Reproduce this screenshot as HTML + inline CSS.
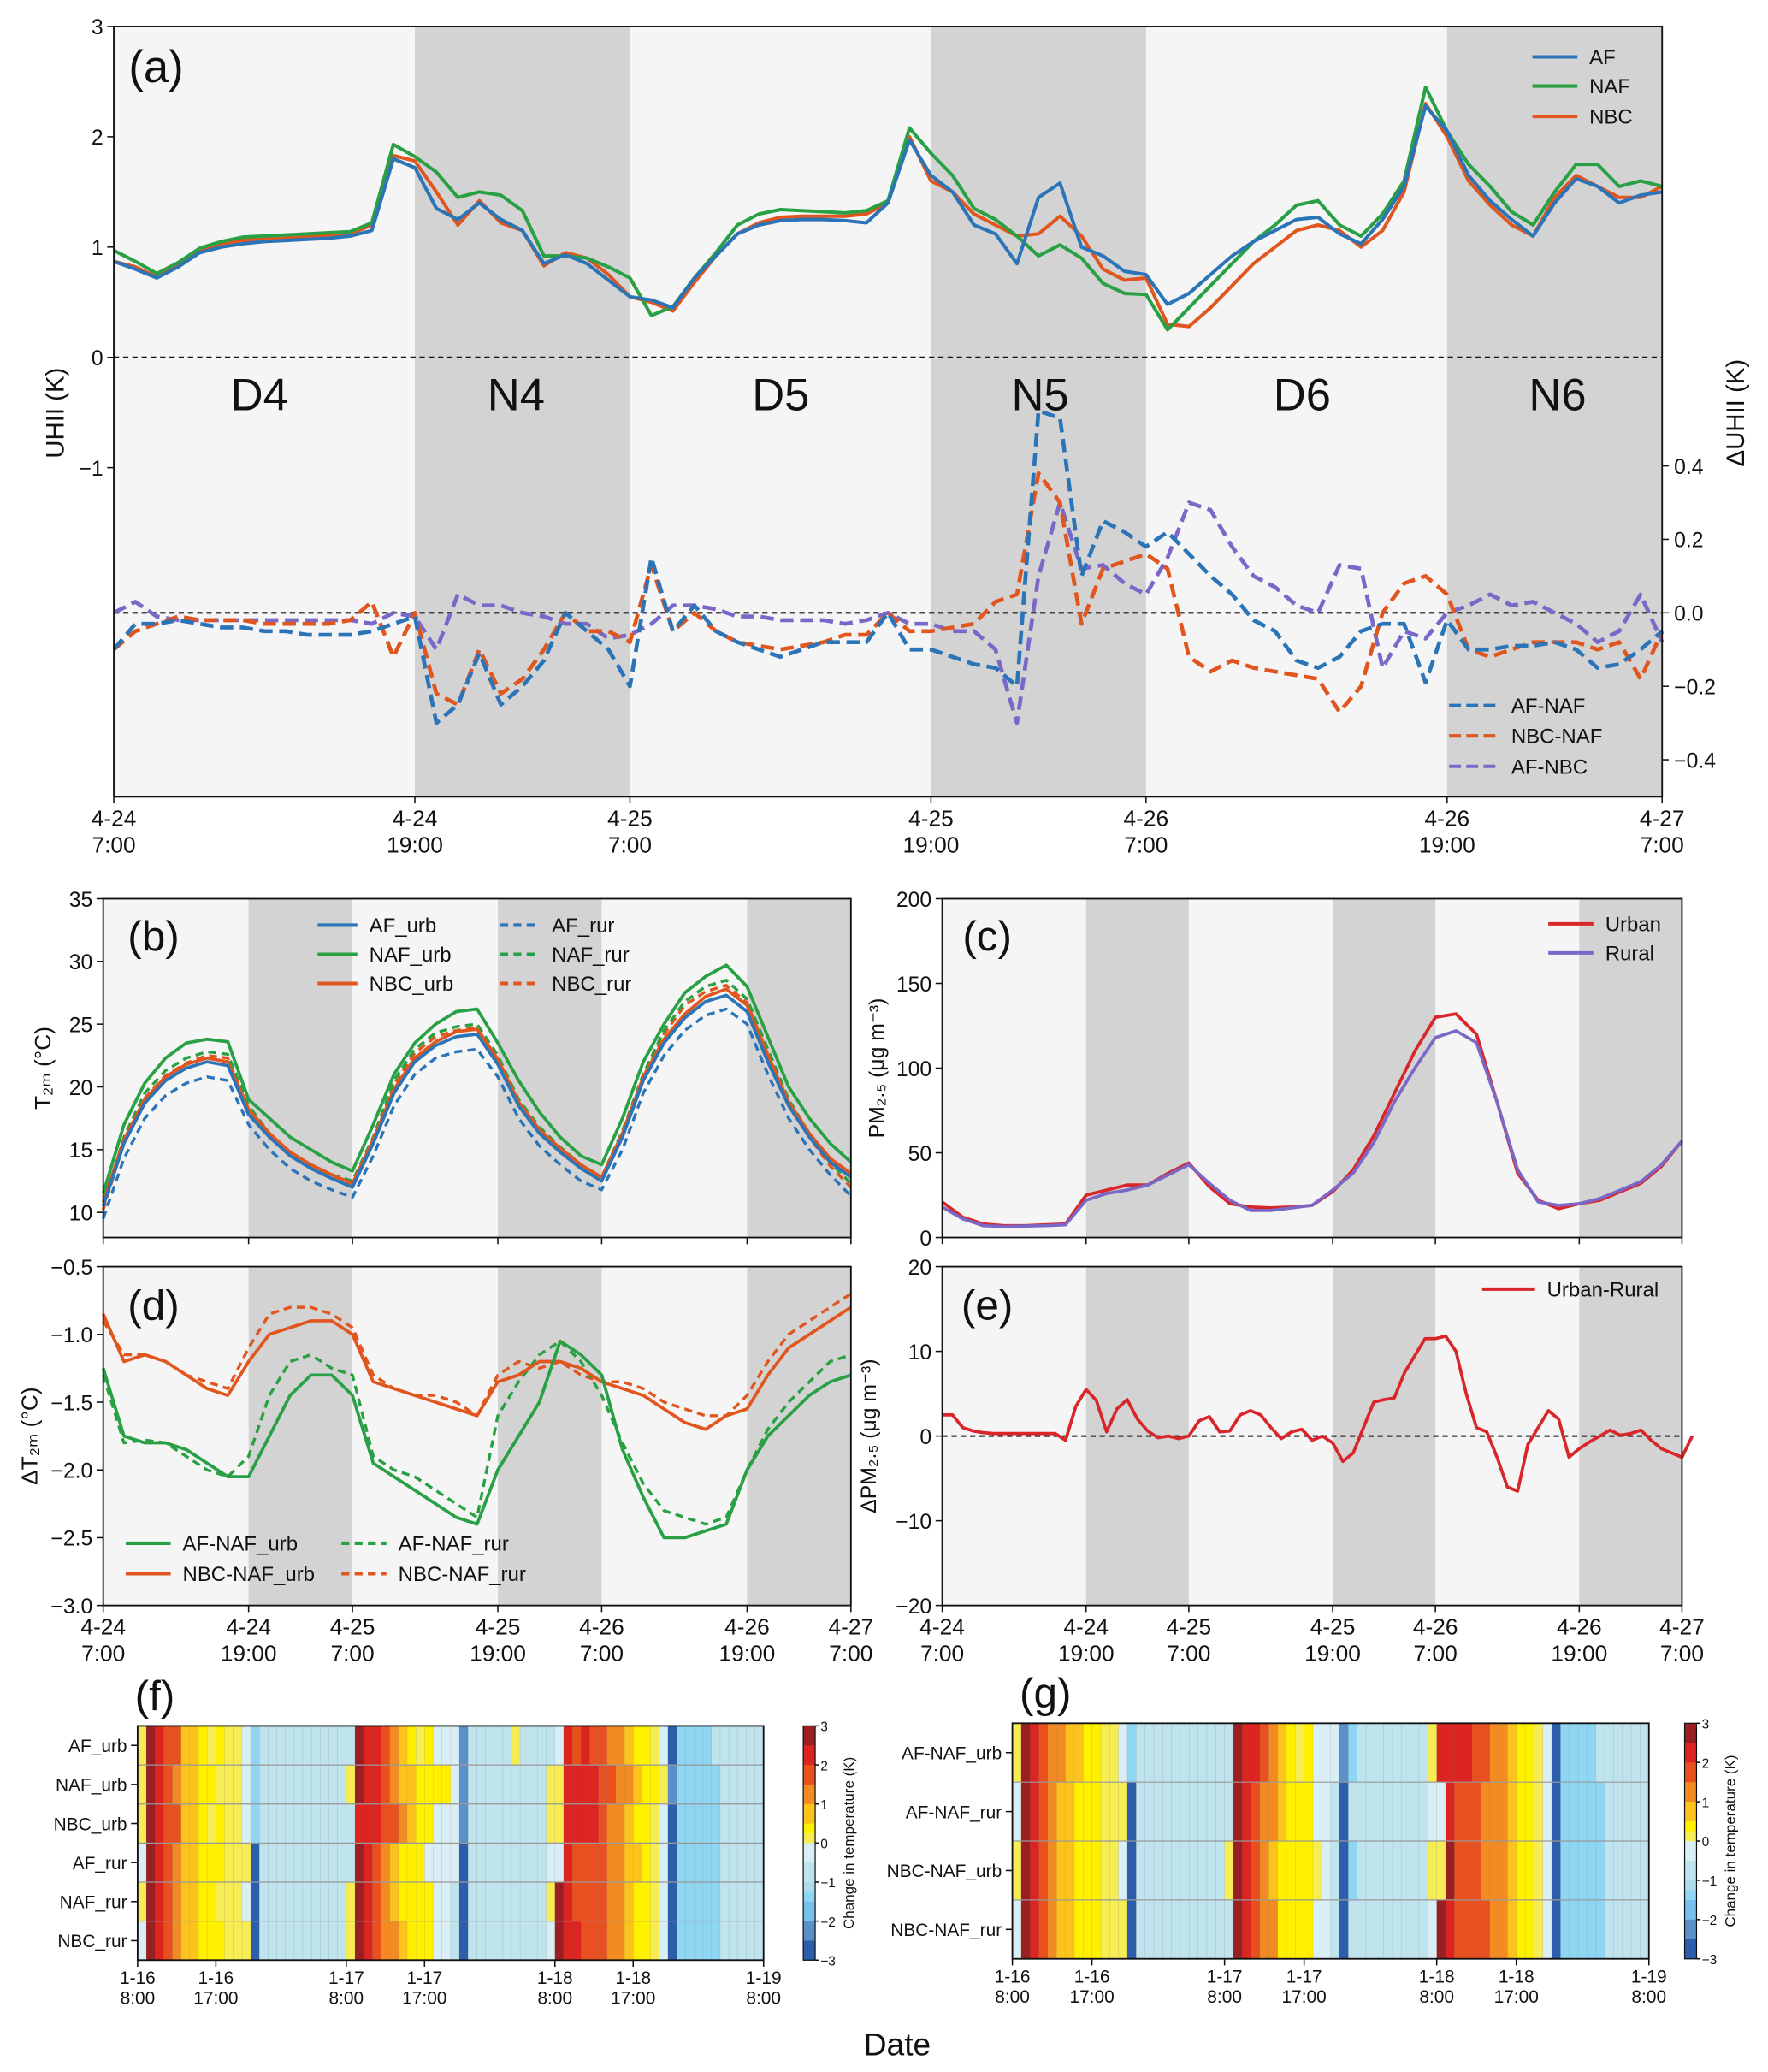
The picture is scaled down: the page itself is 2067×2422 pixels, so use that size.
<!DOCTYPE html>
<html><head><meta charset="utf-8"><style>
html,body{margin:0;padding:0;background:#fff}
svg{display:block}
text{font-family:"Liberation Sans",Arial,sans-serif;fill:#111}
</style></head><body>
<svg id="fig" xmlns="http://www.w3.org/2000/svg" width="2067" height="2422" viewBox="0 0 1336 1565.5" preserveAspectRatio="none"></svg>
<script>
// ---------- DATA ----------
const aAF=[0.87,0.8,0.72,0.82,0.95,1.0,1.03,1.05,1.06,1.07,1.08,1.1,1.15,1.8,1.72,1.35,1.25,1.4,1.25,1.15,0.85,0.93,0.85,0.7,0.55,0.52,0.45,0.72,0.92,1.12,1.2,1.24,1.25,1.25,1.24,1.22,1.4,1.97,1.65,1.5,1.2,1.12,0.85,1.45,1.58,1.0,0.92,0.78,0.75,0.48,0.58,0.75,0.92,1.05,1.15,1.25,1.27,1.12,1.03,1.25,1.55,2.28,2.05,1.65,1.42,1.25,1.1,1.4,1.62,1.55,1.4,1.47,1.5];
const aNAF=[0.97,0.87,0.76,0.86,0.99,1.05,1.09,1.1,1.11,1.12,1.13,1.14,1.22,1.93,1.82,1.68,1.45,1.5,1.47,1.33,0.92,0.92,0.9,0.82,0.72,0.38,0.46,0.72,0.95,1.2,1.3,1.34,1.33,1.32,1.31,1.33,1.42,2.08,1.85,1.65,1.35,1.25,1.1,0.92,1.02,0.9,0.67,0.58,0.57,0.25,0.45,0.65,0.85,1.05,1.2,1.38,1.42,1.2,1.1,1.3,1.6,2.45,2.05,1.75,1.55,1.32,1.2,1.5,1.75,1.75,1.55,1.6,1.55];
const aNBC=[0.87,0.82,0.73,0.85,0.98,1.03,1.06,1.07,1.08,1.1,1.11,1.12,1.2,1.83,1.78,1.5,1.2,1.42,1.22,1.15,0.83,0.95,0.9,0.75,0.55,0.5,0.42,0.68,0.92,1.12,1.22,1.27,1.28,1.28,1.28,1.3,1.4,2.0,1.6,1.5,1.3,1.2,1.1,1.12,1.28,1.1,0.8,0.7,0.72,0.3,0.28,0.45,0.65,0.85,1.0,1.15,1.2,1.15,1.0,1.15,1.5,2.3,2.0,1.6,1.38,1.2,1.1,1.45,1.65,1.55,1.45,1.45,1.55];
const dAFNAF=[-0.1,-0.03,-0.03,-0.02,-0.03,-0.04,-0.04,-0.05,-0.05,-0.06,-0.06,-0.06,-0.05,-0.03,-0.01,-0.3,-0.25,-0.11,-0.25,-0.2,-0.13,0.0,-0.05,-0.1,-0.2,0.15,-0.05,0.02,-0.05,-0.08,-0.1,-0.12,-0.1,-0.08,-0.08,-0.08,0.0,-0.1,-0.1,-0.12,-0.14,-0.15,-0.2,0.55,0.53,0.1,0.25,0.22,0.18,0.22,0.16,0.1,0.05,-0.02,-0.05,-0.13,-0.15,-0.12,-0.05,-0.03,-0.03,-0.19,-0.02,-0.1,-0.1,-0.09,-0.09,-0.08,-0.1,-0.15,-0.14,-0.1,-0.05];
const dNBCNAF=[-0.1,-0.05,-0.03,-0.01,-0.02,-0.02,-0.02,-0.03,-0.03,-0.03,-0.03,-0.02,0.03,-0.12,0.0,-0.22,-0.25,-0.1,-0.22,-0.18,-0.1,0.0,-0.05,-0.05,-0.08,0.13,-0.05,0.0,-0.05,-0.08,-0.09,-0.1,-0.09,-0.08,-0.06,-0.06,0.0,-0.05,-0.05,-0.04,-0.03,0.03,0.05,0.38,0.3,-0.03,0.12,0.14,0.16,0.12,-0.12,-0.16,-0.13,-0.15,-0.16,-0.17,-0.18,-0.27,-0.2,0.0,0.08,0.1,0.05,-0.1,-0.12,-0.1,-0.08,-0.08,-0.08,-0.1,-0.08,-0.18,-0.05];
const dAFNBC=[0.0,0.03,-0.01,-0.02,-0.02,-0.02,-0.02,-0.02,-0.02,-0.02,-0.02,-0.02,-0.03,0.0,-0.01,-0.1,0.05,0.02,0.02,0.0,-0.01,-0.03,-0.03,-0.07,-0.06,-0.03,0.02,0.02,0.01,-0.01,-0.01,-0.02,-0.02,-0.02,-0.03,-0.02,0.0,-0.03,-0.03,-0.05,-0.05,-0.1,-0.3,0.1,0.3,0.12,0.13,0.08,0.05,0.15,0.3,0.28,0.18,0.1,0.07,0.02,0.0,0.13,0.12,-0.15,-0.05,-0.07,0.0,0.02,0.05,0.02,0.03,0.0,-0.03,-0.08,-0.05,0.05,-0.08];
const bAFu=[10.5,15.5,18.7,20.5,21.5,22,21.7,17.8,16,14.5,13.5,12.7,12.0,15.5,19.5,22,23.3,24,24.2,21.8,18.5,16.3,14.8,13.5,12.5,16,20.5,23.5,25.5,26.8,27.3,26,22,18.5,16,14,12.8];
const bNAFu=[11.5,17,20.3,22.3,23.5,23.8,23.6,19.0,17.5,16,15,14,13.3,17,21,23.5,25,26,26.2,23.5,20.5,18,16,14.5,13.8,17.5,22,25,27.5,28.8,29.7,28,24,20,17.5,15.5,14];
const bNBCu=[10.8,15.8,19,20.8,21.8,22.3,22,18.2,16.3,14.8,13.8,13,12.3,15.8,19.8,22.3,23.6,24.4,24.6,22.2,18.8,16.6,15.1,13.8,12.8,16.3,20.8,23.8,25.8,27.2,27.8,26.5,22.5,18.8,16.3,14.3,13.1];
const bAFr=[9.5,14.3,17.5,19.3,20.3,20.8,20.5,17,15,13.5,12.5,11.8,11.2,14.5,18.5,21,22.3,22.8,23,20.8,17.5,15.3,13.8,12.5,11.8,15,19.5,22.5,24.5,25.7,26.2,25,21,17.5,15,13,11.3];
const bNAFr=[10.5,16,19.5,21.3,22.3,22.8,22.6,18.5,16.3,14.8,13.7,13,12.5,16,20.5,23,24.3,24.8,25,22.5,19,16.8,15.2,13.8,12.8,16.5,21,24.5,26.8,28,28.5,27,23,19,16.3,14,12.3];
const bNBCr=[10.2,15.6,19.1,20.9,21.9,22.5,22.3,18.2,16,14.5,13.5,12.8,12.2,15.7,20.2,22.7,24,24.5,24.7,22.2,18.7,16.5,15,13.5,12.5,16.2,20.7,24.2,26.5,27.6,28.1,26.7,22.6,18.7,16,13.7,12];
const cUrban=[21,12,8,7,7,7.5,8,25,28,31,31,38,44,30,20,18,17.5,18,19,27,40,60,85,110,130,132,120,80,38,22,17,20,22,27,32,42,57];
const cRural=[18,11,7,6.5,6.8,7,7.5,22,26,28,31,37,43,32,22,16,16,17.5,19,28,38,56,80,100,118,122,115,80,40,21,19,20,23,28,33,43,57];
const dAFu=[-1.25,-1.75,-1.8,-1.8,-1.85,-1.95,-2.05,-2.05,-1.75,-1.45,-1.3,-1.3,-1.45,-1.95,-2.05,-2.15,-2.25,-2.35,-2.4,-2.0,-1.75,-1.5,-1.05,-1.15,-1.3,-1.85,-2.2,-2.5,-2.5,-2.45,-2.4,-2.0,-1.75,-1.6,-1.45,-1.35,-1.3];
const dAFr=[-1.3,-1.8,-1.78,-1.8,-1.9,-2.0,-2.05,-1.9,-1.45,-1.2,-1.15,-1.25,-1.3,-1.9,-2.0,-2.05,-2.15,-2.25,-2.35,-1.6,-1.35,-1.15,-1.05,-1.2,-1.45,-1.8,-2.1,-2.3,-2.35,-2.4,-2.35,-2.0,-1.7,-1.5,-1.35,-1.2,-1.15];
const dNBCu=[-0.85,-1.2,-1.15,-1.2,-1.3,-1.4,-1.45,-1.2,-1.0,-0.95,-0.9,-0.9,-1.0,-1.35,-1.4,-1.45,-1.5,-1.55,-1.6,-1.35,-1.3,-1.2,-1.2,-1.25,-1.35,-1.4,-1.45,-1.55,-1.65,-1.7,-1.6,-1.55,-1.3,-1.1,-1.0,-0.9,-0.8];
const dNBCr=[-0.9,-1.15,-1.15,-1.2,-1.3,-1.35,-1.4,-1.1,-0.85,-0.8,-0.8,-0.85,-0.95,-1.3,-1.4,-1.45,-1.45,-1.5,-1.6,-1.3,-1.2,-1.25,-1.2,-1.3,-1.35,-1.35,-1.4,-1.5,-1.55,-1.6,-1.6,-1.45,-1.2,-1.0,-0.9,-0.8,-0.7];
const eDiff=[2.5,2.5,1.0,0.6,0.4,0.3,0.3,0.3,0.3,0.3,0.3,0.3,-0.5,3.5,5.5,4.2,0.5,3.2,4.3,2.0,0.6,-0.2,0.0,-0.3,0.0,1.8,2.3,0.5,0.6,2.5,3.0,2.5,1.0,-0.3,0.5,0.8,-0.5,0.0,-0.8,-3.0,-2.0,1.0,4.0,4.3,4.5,7.5,9.5,11.5,11.5,11.8,10,5,1,0.5,-2.5,-6,-6.5,-1,1,3,2,-2.5,-1.5,-0.7,0.0,0.7,0.1,0.3,0.7,-0.5,-1.5,-2.0,-2.5,0];
const hourTicks=[0,14,24,38,48,62,72];
const dateLabels=["4-24","4-24","4-25","4-25","4-26","4-26","4-27"];
const timeLabels=["7:00","19:00","7:00","19:00","7:00","19:00","7:00"];
const nightStarts=[14,38,62];
const fRows=["AF_urb","NAF_urb","NBC_urb","AF_rur","NAF_rur","NBC_rur"];
const fCodes=[
"lRrooggylyllpcbbbbbbbbbb"+"bRrroOgylypppmbbbbblbbbb"+"prorooOOgyylpDccccbbbbbb",
"lRroOggyylllpcbbbbbbbbbb"+"lRrroOggyyyypmbbbbbbbbbl"+"lrrrrooOOgyylmcccccbbbbb",
"lRrooggylyllpcbbbbbbbbbb"+"brrrooOgyypppmbbbbbbbbbl"+"lrrrroOOgyylpDcccccbbbbb",
"pRroOggyyylllDbbbbbbbbbb"+"bRroOgyyyppppDbbbbbbbbbp"+"prooooOOggylpDcccccbbbbb",
"lRroOggyylllpDbbbbbbbbbb"+"lRroOgyyyyppbDbbbbbbbbbl"+"RrooooOOgyylpDcccccbbbbb",
"pRroOggyyylllDbbbbbbbbbb"+"lRroOOgyyyppbDbbbbbbbbbp"+"RrroooOOgyylpDcccccbbbbb"];
const gRows=["AF-NAF_urb","AF-NAF_rur","NBC-NAF_urb","NBC-NAF_rur"];
const gCodes=[
"lRroOOggyyllpcbbbbbbbbbb"+"bRrroOgylypppmcbbbbbbbbl"+"rrrrooOOgyylpDccccbbbbbb",
"pRroOggyyylllDbbbbbbbbbb"+"bRroOOgyyyppbDbbbbbbbbbp"+"proooOOOgyylpDcccccbbbbb",
"lRroOggyyyllpDbbbbbbbbbb"+"lRroOgyyyylpbDcbbbbbbbbl"+"lRoooOOOgyylpDcccccbbbbb",
"pRroOggyyylllDbbbbbbbbbb"+"bRroOOyyyyppbDbbbbbbbbbp"+"RrooooOOgyylpDcccccbbbbb"];
const codeValues={R:2.75,r:2.25,o:1.75,O:1.25,g:0.75,y:0.4,l:0.1,p:-0.25,b:-0.9,c:-1.4,m:-2.1,d:-2.5,D:-2.85};
const heatTickHours=[0,9,24,33,48,57,72];
const heatDates=["1-16","1-16","1-17","1-17","1-18","1-18","1-19"];
const heatTimes=["8:00","17:00","8:00","17:00","8:00","17:00","8:00"];

// ---------- DRAW ----------
const NS="http://www.w3.org/2000/svg";
const svg=document.getElementById('fig');
function mk(tag,attrs,parent){const e=document.createElementNS(NS,tag);for(const k in attrs)e.setAttribute(k,attrs[k]);(parent||svg).appendChild(e);return e;}
function txt(s,x,y,size,anchor,parent,extra){const t=mk('text',Object.assign({x:x,y:y,'font-size':size,'text-anchor':anchor||'middle'},extra||{}),parent);t.textContent=s;return t;}
const C={AF:'#2b74b8',NAF:'#28a043',NBC:'#e0561e',PUR:'#7a67c8',URB:'#d8262a'};

function panel(name,x0,x1,y0,y1,hours){
  const g=mk('g',{});
  
  
  mk('rect',{x:x0,y:y0,width:x1-x0,height:y1-y0,fill:'#f4f5f4'},g);
  const X=h=>x0+(x1-x0)*h/hours;
  nightStarts.forEach(n=>{const r=mk('rect',{x:X(n),y:y0,width:X(n+10)-X(n),height:y1-y0,fill:'#d3d3d3'},g);
    
    });
  return {g,X};
}
function frame(g,x0,x1,y0,y1){mk('rect',{x:x0,y:y0,width:x1-x0,height:y1-y0,fill:'none',stroke:'#111','stroke-width':1.2},g);}
function line(g,vals,X,Y,step,color,dash,w,name){
  const p=vals.map((v,i)=>(i?'L':'M')+X(i*step).toFixed(2)+','+Y(v).toFixed(2)).join('');
  const e=mk('path',{d:p,fill:'none',stroke:color,'stroke-width':w||2.2,'stroke-dasharray':dash||'none','stroke-linejoin':'round'},g);
  
  
}
function yTicks(g,x,vals,Y,fmt,side){vals.forEach(v=>{const y=Y(v);
  mk('line',{x1:x,x2:side==='r'?x+5:x-5,y1:y,y2:y,stroke:'#111'},g);
  txt(fmt(v),side==='r'?x+9:x-8,y+6,16,side==='r'?'start':'end',g);});}
function xTicks(g,X,y,labels){hourTicks.forEach((h,i)=>{mk('line',{x1:X(h),x2:X(h),y1:y,y2:y+5,stroke:'#111'},g);
  if(labels){txt(dateLabels[i],X(h),y+22,17,'middle',g);txt(timeLabels[i],X(h),y+42,17,'middle',g);}});}
function legendEntry(g,x,y,len,color,dash,label,name){const le=mk('g',{},g);
  
  
  mk('line',{x1:x,x2:x+len,y1:y,y2:y,stroke:color,'stroke-width':2.6,'stroke-dasharray':dash||'none'},le);
  txt(label,x+len+9,y+5.5,15.5,'start',le);}
const minus=v=>(v<0?'\u2212':'')+Math.abs(v);

// ----- panel a -----
(function(){
  const x0=86,x1=1256,y0=20,y1=602;
  const {g,X}=panel('panel-a-uhii',x0,x1,y0,y1,72);
  const Y=v=>270-83.33*v, Y2=v=>463-277.5*v;
  mk('line',{x1:x0,x2:x1,y1:Y(0),y2:Y(0),stroke:'#111','stroke-dasharray':'4,3','stroke-width':1.3},g);
  mk('line',{x1:x0,x2:x1,y1:Y2(0),y2:Y2(0),stroke:'#111','stroke-dasharray':'4,3','stroke-width':1.3},g);
  line(g,aNBC,X,Y,1,C.NBC,null,2.6,'nbc-uhii-line');
  line(g,aNAF,X,Y,1,C.NAF,null,2.6,'naf-uhii-line');
  line(g,aAF,X,Y,1,C.AF,null,2.6,'af-uhii-line');
  line(g,dAFNBC,X,Y2,1,C.PUR,'10,5',3,'af-nbc-delta-line');
  line(g,dNBCNAF,X,Y2,1,C.NBC,'10,5',3,'nbc-naf-delta-line');
  line(g,dAFNAF,X,Y2,1,C.AF,'10,5',3,'af-naf-delta-line');
  frame(g,x0,x1,y0,y1);
  yTicks(g,x0,[3,2,1,0,-1],Y,minus,'l');
  yTicks(g,x1,[0.4,0.2,0.0,-0.2,-0.4],Y2,v=>(v<0?'\u2212':'')+Math.abs(v).toFixed(1),'r');
  xTicks(g,X,y1,true);
  ["D4","N4","D5","N5","D6","N6"].forEach((s,i)=>txt(s,[196,390,590,786,984,1177][i],310,34,'middle',g));
  txt('(a)',118,62,34,'middle',g);
  txt('UHII (K)',0,0,19,'middle',g,{transform:'translate(48,312) rotate(-90)'});
  txt('\u0394UHII (K)',0,0,19,'middle',g,{transform:'translate(1318,312) rotate(-90)'});
  legendEntry(g,1158,43,34,C.AF,null,'AF','legend-af');
  legendEntry(g,1158,65,34,C.NAF,null,'NAF','legend-naf');
  legendEntry(g,1158,88,34,C.NBC,null,'NBC','legend-nbc');
  legendEntry(g,1095,533,38,C.AF,'9,4','AF-NAF','legend-af-naf');
  legendEntry(g,1095,556,38,C.NBC,'9,4','NBC-NAF','legend-nbc-naf');
  legendEntry(g,1095,579,38,C.PUR,'9,4','AF-NBC','legend-af-nbc');
})();

// ----- panel b -----
(function(){
  const x0=78,x1=643,y0=679,y1=935;
  const {g,X}=panel('panel-b-temperature',x0,x1,y0,y1,72);
  const Y=v=>916-9.48*(v-10);
  line(g,bNBCr,X,Y,2,C.NBC,'6,4',2.2,'nbc-rur-line');
  line(g,bNAFr,X,Y,2,C.NAF,'6,4',2.2,'naf-rur-line');
  line(g,bAFr,X,Y,2,C.AF,'6,4',2.2,'af-rur-line');
  line(g,bNBCu,X,Y,2,C.NBC,null,2.4,'nbc-urb-line');
  line(g,bAFu,X,Y,2,C.AF,null,2.4,'af-urb-line');
  line(g,bNAFu,X,Y,2,C.NAF,null,2.4,'naf-urb-line');
  frame(g,x0,x1,y0,y1);
  yTicks(g,x0,[10,15,20,25,30,35],Y,minus,'l');
  xTicks(g,X,y1,false);
  txt('(b)',116,718,32,'middle',g);
  txt('T\u2082\u2098 (\u00b0C)',0,0,17,'middle',g,{transform:'translate(38,807) rotate(-90)'});
  legendEntry(g,240,699,30,C.AF,null,'AF_urb','legend-af-urb');
  legendEntry(g,240,721,30,C.NAF,null,'NAF_urb','legend-naf-urb');
  legendEntry(g,240,743,30,C.NBC,null,'NBC_urb','legend-nbc-urb');
  legendEntry(g,378,699,30,C.AF,'6,4','AF_rur','legend-af-rur');
  legendEntry(g,378,721,30,C.NAF,'6,4','NAF_rur','legend-naf-rur');
  legendEntry(g,378,743,30,C.NBC,'6,4','NBC_rur','legend-nbc-rur');
})();

// ----- panel c -----
(function(){
  const x0=712,x1=1271,y0=679,y1=935;
  const {g,X}=panel('panel-c-pm25',x0,x1,y0,y1,72);
  const Y=v=>935-1.28*v;
  line(g,cUrban,X,Y,2,C.URB,null,2.4,'urban-pm-line');
  line(g,cRural,X,Y,2,C.PUR,null,2.4,'rural-pm-line');
  frame(g,x0,x1,y0,y1);
  yTicks(g,x0,[0,50,100,150,200],Y,minus,'l');
  xTicks(g,X,y1,false);
  txt('(c)',746,718,32,'middle',g);
  txt('PM\u2082.\u2085 (\u03bcg m\u207b\u00b3)',0,0,16,'middle',g,{transform:'translate(668,807) rotate(-90)'});
  legendEntry(g,1170,698,34,C.URB,null,'Urban','legend-urban');
  legendEntry(g,1170,720,34,C.PUR,null,'Rural','legend-rural');
})();

// ----- panel d -----
(function(){
  const x0=78,x1=643,y0=957,y1=1213;
  const {g,X}=panel('panel-d-delta-temperature',x0,x1,y0,y1,72);
  const Y=v=>957+102.4*(-0.5-v);
  line(g,dNBCr,X,Y,2,C.NBC,'6,4',2.2,'nbc-naf-rur-line');
  line(g,dAFr,X,Y,2,C.NAF,'6,4',2.2,'af-naf-rur-line');
  line(g,dNBCu,X,Y,2,C.NBC,null,2.4,'nbc-naf-urb-line');
  line(g,dAFu,X,Y,2,C.NAF,null,2.4,'af-naf-urb-line');
  frame(g,x0,x1,y0,y1);
  yTicks(g,x0,[-0.5,-1.0,-1.5,-2.0,-2.5,-3.0],Y,v=>'\u2212'+Math.abs(v).toFixed(1),'l');
  xTicks(g,X,y1,true);
  txt('(d)',116,997,32,'middle',g);
  txt('\u0394T\u2082\u2098 (\u00b0C)',0,0,17,'middle',g,{transform:'translate(28,1085) rotate(-90)'});
  legendEntry(g,95,1166,34,C.NAF,null,'AF-NAF_urb','legend-af-naf-urb');
  legendEntry(g,95,1189,34,C.NBC,null,'NBC-NAF_urb','legend-nbc-naf-urb');
  legendEntry(g,258,1166,34,C.NAF,'6,4','AF-NAF_rur','legend-af-naf-rur');
  legendEntry(g,258,1189,34,C.NBC,'6,4','NBC-NAF_rur','legend-nbc-naf-rur');
})();

// ----- panel e -----
(function(){
  const x0=712,x1=1271,y0=957,y1=1213;
  const {g,X}=panel('panel-e-delta-pm25',x0,x1,y0,y1,72);
  const Y=v=>1085-6.4*v;
  mk('line',{x1:x0,x2:x1,y1:Y(0),y2:Y(0),stroke:'#111','stroke-dasharray':'4,3','stroke-width':1.3},g);
  line(g,eDiff,X,Y,1,C.URB,null,2.4,'urban-rural-pm-line');
  frame(g,x0,x1,y0,y1);
  yTicks(g,x0,[20,10,0,-10,-20],Y,minus,'l');
  xTicks(g,X,y1,true);
  txt('(e)',746,997,32,'middle',g);
  txt('\u0394PM\u2082.\u2085 (\u03bcg m\u207b\u00b3)',0,0,16,'middle',g,{transform:'translate(662,1085) rotate(-90)'});
  legendEntry(g,1120,974,40,C.URB,null,'Urban-Rural','legend-urban-rural');
})();

// ----- heatmaps -----
const stops=[[3,'#9a1f22'],[2.5,'#dc2420'],[2,'#e8501f'],[1.5,'#f28c22'],[1,'#fcc31c'],[0.5,'#fff000'],[0.25,'#f6ec54'],[0,'#d9eef5'],[-0.5,'#bfe4ee'],[-1,'#aedcea'],[-1.25,'#8fd6f3'],[-1.5,'#78bfec'],[-2,'#5b90c8'],[-2.5,'#2c5eac'],[-3,'#1e3d98']];
function colorOf(v){for(let i=1;i<stops.length;i++){if(v>=stops[i][0])return stops[i-1][1];}return stops[stops.length-1][1];}
function heatmap(name,label,rows,codes,x0,x1,y0,y1,cbx,lx,ly){
  const g=mk('g',{});
  
  
  const cw=(x1-x0)/72, rh=(y1-y0)/rows.length;
  codes.forEach((row,r)=>{for(let c=0;c<72;c++){
    const cell=mk('rect',{x:x0+c*cw,y:y0+r*rh,width:cw+0.3,height:rh,fill:colorOf(codeValues[row[c]]),stroke:'rgba(120,120,120,0.25)','stroke-width':0.4},g);
    
    
  }
  mk('line',{x1:x0,x2:x0-5,y1:y0+(r+0.5)*rh,y2:y0+(r+0.5)*rh,stroke:'#111'},g);
  txt(rows[r],x0-8,y0+(r+0.5)*rh+5,13.5,'end',g);
  if(r>0)mk('line',{x1:x0,x2:x1,y1:y0+r*rh,y2:y0+r*rh,stroke:'#999','stroke-width':0.8},g);});
  frame(g,x0,x1,y0,y1);
  heatTickHours.forEach((h,i)=>{const x=x0+h*cw;mk('line',{x1:x,x2:x,y1:y1,y2:y1+5,stroke:'#111'},g);
    txt(heatDates[i],x,y1+18,13.5,'middle',g);txt(heatTimes[i],x,y1+33,13.5,'middle',g);});
  const cb=mk('g',{},g);
  
  
  const n=24, bh=(y1-y0)/n;
  for(let i=0;i<n;i++){const v=3-(i+0.5)*6/n;mk('rect',{x:cbx,y:y0+i*bh,width:9,height:bh+0.3,fill:colorOf(v)},cb);}
  mk('rect',{x:cbx,y:y0,width:9,height:y1-y0,fill:'none',stroke:'#111','stroke-width':0.8},cb);
  [3,2,1,0,-1,-2,-3].forEach(v=>{const y=y0+(3-v)/6*(y1-y0);mk('line',{x1:cbx+9,x2:cbx+12,y1:y,y2:y,stroke:'#111'},cb);
    txt((v<0?'\u2212':'')+Math.abs(v),cbx+13,y+4,10,'start',cb);});
  txt('Change in temperature (K)',0,0,11,'middle',cb,{transform:`translate(${cbx+38},${(y0+y1)/2}) rotate(-90)`});
  txt(label,lx,ly,32,'middle',g);
}
heatmap('heatmap-f','(f)',fRows,fCodes,104,577,1304,1481,607,117,1292);
heatmap('heatmap-g','(g)',gRows,gCodes,765,1246,1302,1480,1273,790,1290);
txt('Date',678,1553,24,'middle');
</script>
</body></html>
